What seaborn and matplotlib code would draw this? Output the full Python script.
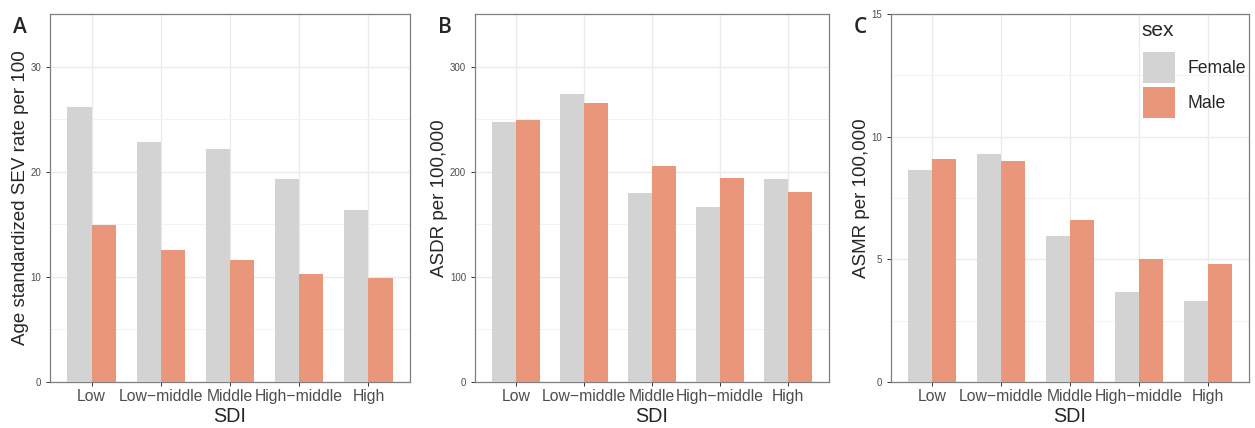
import pandas as pd
import seaborn as sns
from matplotlib import pyplot as plt
from matplotlib.patches import Patch
from matplotlib.ticker import MultipleLocator

sdi = ["Low", "Low\u2212middle", "Middle", "High\u2212middle", "High"]
sexes = ["Female", "Male"]

sev_female = [26.2, 22.8, 22.2, 19.3, 16.35]
sev_male = [14.95, 12.55, 11.6, 10.3, 9.9]

asdr_female = [247.5, 273.8, 179.5, 166.0, 192.8]
asdr_male = [249.5, 265.5, 205.0, 194.0, 181.0]

asmr_female = [8.65, 9.3, 5.95, 3.65, 3.3]
asmr_male = [9.1, 9.0, 6.6, 5.0, 4.8]

panels = [
    ("A", "Age standardized SEV rate per 100", sev_female, sev_male, 35, 10),
    ("B", "ASDR per 100,000", asdr_female, asdr_male, 350, 100),
    ("C", "ASMR per 100,000", asmr_female, asmr_male, 15, 5),
]

colors = {"Female": "#D3D3D3", "Male": "#E9967A"}

sns.set_style("white")
plt.rcParams["font.family"] = ["Liberation Sans", "DejaVu Sans"]

fig = plt.figure(figsize=(12.55, 4.28), dpi=100)
lefts = [50, 475, 891]
rights = [410, 829, 1249]
bottom = 1 - 382 / 428
top = 1 - 14 / 428

for i, (tag, ylab, fem, mal, ymax, step) in enumerate(panels):
    ax = fig.add_axes([lefts[i] / 1255, bottom, (rights[i] - lefts[i]) / 1255, top - bottom])
    df = pd.DataFrame({
        "SDI": sdi * 2,
        "sex": ["Female"] * 5 + ["Male"] * 5,
        "value": fem + mal,
    })
    sns.barplot(data=df, x="SDI", y="value", hue="sex", order=sdi, hue_order=sexes,
                palette=colors, width=0.7, saturation=1, errorbar=None,
                linewidth=0, legend=False, ax=ax, zorder=3)
    ax.set_xlim(-0.6, 4.6)
    ax.set_ylim(0, ymax)
    ax.yaxis.set_major_locator(MultipleLocator(step))
    ax.yaxis.set_minor_locator(MultipleLocator(step / 2))
    ax.grid(True, which="major", color="#EBEBEB", lw=1.0, zorder=0)
    ax.grid(True, which="minor", axis="y", color="#F2F2F2", lw=0.7, zorder=0)
    ax.set_axisbelow(True)
    for s in ax.spines.values():
        s.set_color("#7F7F7F")
        s.set_linewidth(0.9)
    ax.tick_params(axis="y", which="major", labelsize=7, labelcolor="#4D4D4D",
                   color="#333333", length=3, width=0.7, left=True)
    ax.tick_params(axis="y", which="minor", length=0)
    ax.tick_params(axis="x", labelsize=11.3, labelcolor="#4D4D4D",
                   color="#333333", length=3, width=0.7, bottom=True, pad=2)
    ax.set_xlabel("SDI", fontsize=14.2, labelpad=2)
    ax.set_ylabel(ylab, fontsize=13.5, labelpad=1)
    fig.text((lefts[i] - 37) / 1255, 1 - 33 / 428, tag, fontsize=15,
             family=["Open Sans", "DejaVu Sans"], weight="semibold")

    if tag == "C":
        handles = [Patch(facecolor=colors[s], edgecolor="none", label=s) for s in sexes]
        leg = ax.legend(handles=handles, frameon=False,
                        loc="upper left", bbox_to_anchor=(0.704, 0.897),
                        borderpad=0, borderaxespad=0, fontsize=12.7,
                        handlelength=1.8, handleheight=2.3, labelspacing=0.25,
                        handletextpad=0.7)
        leg.set_zorder(5)
        ax.text(0.700, (382 - 30) / 368, "sex", transform=ax.transAxes,
                fontsize=15, ha="left", va="center", zorder=5)

plt.savefig("out.png", dpi=100)
